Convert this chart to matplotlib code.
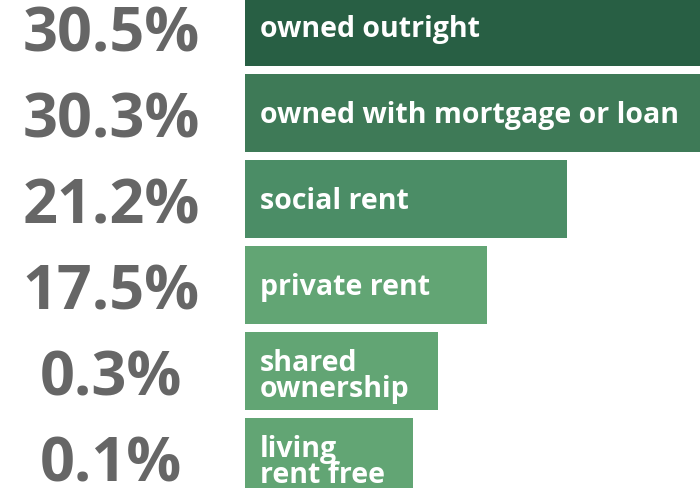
import matplotlib
matplotlib.use("Agg")
import matplotlib.pyplot as plt
import numpy as np

categories = ["owned outright", "owned with mortgage or loan", "social rent",
              "private rent", "shared\nownership", "living\nrent free"]
values = [30.5, 30.3, 21.2, 17.5, 0.3, 0.1]
pct_labels = ["30.5%", "30.3%", "21.2%", "17.5%", "0.3%", "0.1%"]
colors = ["#285f44", "#3e7a57", "#4b8d66", "#62a574", "#62a574", "#62a574"]

FONT = "Open Sans"
W, H, DPI = 700, 488, 100
fig = plt.figure(figsize=(W / DPI, H / DPI), dpi=DPI)
ax = fig.add_axes([0, 0, 1, 1])

# axis scale: pixel x = 245 at BASE, 21.6 px per percentage point
BASE = 6.3
PX_PER = 21.6
x_left = BASE - 245 / PX_PER
x_right = BASE + (W - 245) / PX_PER
ax.set_xlim(x_left, x_right)
step = 86.0
y0 = 27.0
ax.set_ylim((H - y0) / step, -y0 / step)
ax.axis("off")

ypos = np.arange(len(values))
label_x = BASE + 15 / PX_PER
pct_x = x_left + 111 / PX_PER

fig.canvas.draw()
renderer = fig.canvas.get_renderer()
ends = []
for i, (cat, v) in enumerate(zip(categories, values)):
    dy = 0.03 if "\n" not in cat else 0.06
    t = ax.text(label_x, ypos[i] + dy, cat, color="white", fontsize=20.5,
                fontweight="bold", family=FONT, va="center", ha="left",
                linespacing=0.85, zorder=3)
    bb = t.get_window_extent(renderer=renderer)
    text_end = ax.transData.inverted().transform((bb.x1, 0))[0]
    ends.append(max(v, text_end + 28 / PX_PER))
    ax.text(pct_x, ypos[i] + 0.1, pct_labels[i], color="#666666", fontsize=44,
            fontweight="bold", family=FONT, va="center", ha="center", zorder=3)

widths = np.array(ends) - BASE
ax.barh(ypos, widths, left=BASE, height=78 / step, color=colors, zorder=1)

fig.savefig("out.png", dpi=DPI)
